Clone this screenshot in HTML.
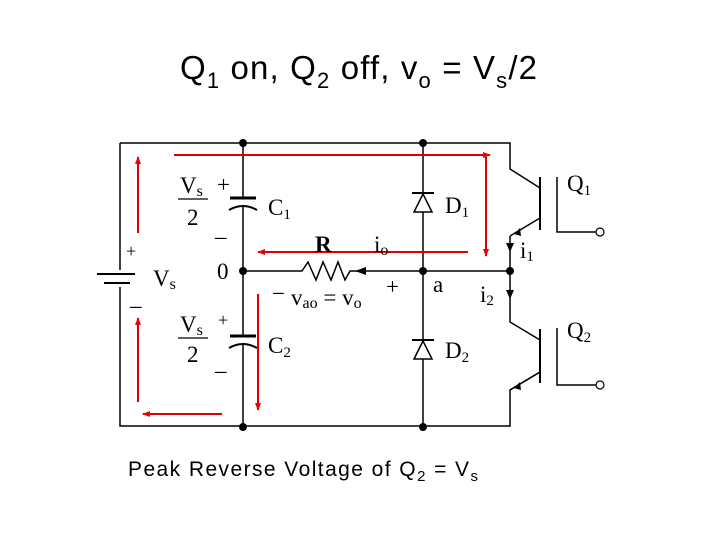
<!DOCTYPE html>
<html><head><meta charset="utf-8"><style>
html,body{margin:0;padding:0;background:#fff;width:720px;height:540px;overflow:hidden}
</style></head><body>
<svg width="720" height="540" viewBox="0 0 720 540" xmlns="http://www.w3.org/2000/svg">
<defs>
<marker id="ar" markerWidth="8" markerHeight="8" refX="7" refY="4" orient="auto" markerUnits="userSpaceOnUse"><path d="M0,1 L8,4 L0,7 z" fill="#e00"/></marker>
</defs>
<text x="180" y="79" font-family="Liberation Sans, sans-serif" font-size="33" textLength="357" lengthAdjust="spacing">Q<tspan font-size="22" dy="9">1</tspan><tspan dy="-9"> on, Q</tspan><tspan font-size="22" dy="9">2</tspan><tspan dy="-9"> off, v</tspan><tspan font-size="22" dy="9">o</tspan><tspan dy="-9"> = V</tspan><tspan font-size="22" dy="9">s</tspan><tspan dy="-9">/2</tspan></text>
<text x="128" y="476" font-family="Liberation Sans, sans-serif" font-size="21" textLength="350" lengthAdjust="spacing">Peak Reverse Voltage of Q<tspan font-size="15" dy="5">2</tspan><tspan dy="-5"> = V</tspan><tspan font-size="15" dy="5">s</tspan></text>
<g stroke="#000" stroke-width="1.5" fill="none">
<path d="M120,143 H510 V169 L540,188"/>
<path d="M120,143 V270 M120,287 V426 H510 V390 L540,372"/>
<path d="M97,274 H135 M104,283 H130" stroke-width="2"/>
<path d="M243,143 V198 M243,207 V336 M243,345 V427"/>
<path d="M230,198 H256" stroke-width="3"/>
<path d="M229,210 Q243,202 257,210" stroke-width="2"/>
<path d="M230,336 H256" stroke-width="3"/>
<path d="M229,348 Q243,340 257,348" stroke-width="2"/>
<path d="M243,271 H302 L308,262 L316,280 L323,262 L331,280 L338,262 L345,280 L350,271 H510"/>
<path d="M423,143 V427"/>
<path d="M510,236 V322 L540,340"/>
<path d="M540,177 V230 M540,329 V383" stroke-width="2"/>
<path d="M557,177 V232 H596 M557,328 V385 H596"/>
<path d="M540,218 L510,236 M540,372 L510,390"/>
<path d="M412,193 H434 M412,340 H434" stroke-width="2"/>
<path d="M423,194 L414,212 H432 Z M423,341 L414,359 H432 Z" fill="#fff"/>
</g>
<g fill="#000">
<circle cx="243" cy="143" r="4"/><circle cx="423" cy="143" r="4"/>
<circle cx="243" cy="427" r="4"/><circle cx="423" cy="427" r="4"/>
<circle cx="243" cy="271" r="4"/><circle cx="423" cy="271" r="4"/><circle cx="510" cy="271" r="4"/>
<path d="M355,271 L366,267 L366,275 Z"/>
<path d="M506,243 L514,243 L510,252 Z M506,290 L514,290 L510,299 Z"/>
<path d="M514,234 L520,228 L521,236 Z M514,388 L520,382 L521,390 Z"/>
</g>
<circle cx="600" cy="232" r="4" fill="#fff" stroke="#000" stroke-width="1.2"/>
<circle cx="600" cy="385" r="4" fill="#fff" stroke="#000" stroke-width="1.2"/>
<g stroke="#d00" stroke-width="2" fill="none" marker-end="url(#ar)">
<path d="M138,233 V157"/>
<path d="M138,402 V318"/>
<path d="M222,414 H143"/>
<path d="M174,155 H490"/>
<path d="M468,252 H258"/>
<path d="M258,294 V410"/>
<path d="M486,157 V256"/>
</g>
<g font-family="Liberation Serif, serif" font-size="23" fill="#000">
<text x="180" y="193">V<tspan font-size="16" dy="3">s</tspan></text>
<path d="M178,199 H208" stroke="#000" stroke-width="1.3"/>
<text x="187" y="225">2</text>
<text x="217" y="192">+</text><text x="215" y="236">_</text>
<text x="268" y="215">C<tspan font-size="15" dy="4">1</tspan></text>
<text x="180" y="332">V<tspan font-size="16" dy="3">s</tspan></text>
<path d="M178,338 H208" stroke="#000" stroke-width="1.3"/>
<text x="187" y="362">2</text>
<text x="218" y="326" font-size="18">+</text><text x="215" y="370">_</text>
<text x="268" y="353">C<tspan font-size="15" dy="4">2</tspan></text>
<text x="126" y="257" font-size="18">+</text>
<text x="130" y="305">_</text>
<text x="153" y="286">V<tspan font-size="16" dy="3">s</tspan></text>
<text x="217" y="279">0</text>
<text x="315" y="252" font-weight="bold">R</text>
<text x="374" y="252">i<tspan font-size="16" dy="3">o</tspan></text>
<text x="272" y="301">−</text>
<text x="291" y="305">v<tspan font-size="16" dy="3">ao</tspan><tspan dy="-3"> = v</tspan><tspan font-size="16" dy="3">o</tspan></text>
<text x="386" y="294">+</text>
<text x="433" y="292">a</text>
<text x="445" y="213">D<tspan font-size="15" dy="4">1</tspan></text>
<text x="445" y="358">D<tspan font-size="15" dy="4">2</tspan></text>
<text x="520" y="258">i<tspan font-size="15" dy="3">1</tspan></text>
<text x="480" y="302">i<tspan font-size="15" dy="3">2</tspan></text>
<text x="567" y="191">Q<tspan font-size="15" dy="4">1</tspan></text>
<text x="567" y="338">Q<tspan font-size="15" dy="4">2</tspan></text>
</g>
</svg>
</body></html>
